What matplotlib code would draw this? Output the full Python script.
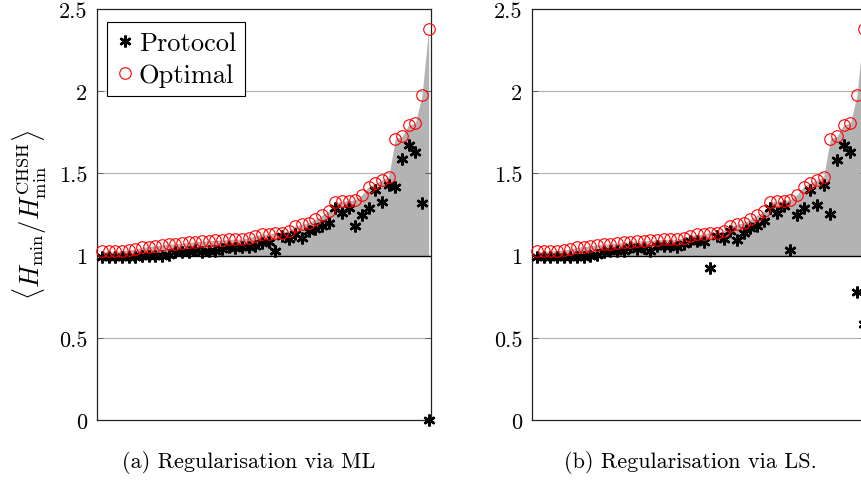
import numpy as np
import matplotlib
matplotlib.use("Agg")
import matplotlib.pyplot as plt
from matplotlib.ticker import FixedLocator, FixedFormatter

plt.rcParams['font.family'] = 'serif'
plt.rcParams['font.serif'] = ['cmr10']
plt.rcParams['mathtext.fontset'] = 'cm'
plt.rcParams['axes.formatter.use_mathtext'] = True

# sample index (sorted by optimal value)
idx = np.arange(1, 51)

# optimal ratio, same in both panels
optimal = [1.025, 1.025, 1.027, 1.03, 1.035, 1.04, 1.05, 1.055, 1.06, 1.065,
           1.07, 1.072, 1.075, 1.08, 1.085, 1.088, 1.09, 1.092, 1.095, 1.098,
           1.10, 1.10, 1.11, 1.12, 1.13, 1.13, 1.14, 1.14, 1.15, 1.18,
           1.19, 1.20, 1.22, 1.245, 1.27, 1.325, 1.33, 1.335, 1.34, 1.37,
           1.42, 1.44, 1.46, 1.48, 1.71, 1.725, 1.795, 1.805, 1.975, 2.38]

# protocol ratio, regularisation via ML
protocol_ml = [0.99, 0.99, 0.99, 0.99, 0.99, 0.99, 0.995, 0.995, 1.0, 1.0,
               1.005, 1.02, 1.02, 1.02, 1.035, 1.02, 1.03, 1.027, 1.04, 1.05,
               1.045, 1.05, 1.055, 1.06, 1.075, 1.08, 1.03, 1.12, 1.10, 1.13,
               1.11, 1.15, 1.16, 1.18, 1.20, 1.29, 1.26, 1.29, 1.18, 1.245,
               1.287, 1.40, 1.325, 1.43, 1.42, 1.585, 1.67, 1.63, 1.317, 0.0]

# protocol ratio, regularisation via LS
protocol_ls = [0.99, 0.99, 0.99, 0.99, 0.99, 0.99, 0.99, 0.99, 0.995, 1.006,
               1.02, 1.03, 1.03, 1.03, 1.05, 1.04, 1.045, 1.03, 1.06, 1.06,
               1.06, 1.05, 1.07, 1.09, 1.09, 1.085, 0.927, 1.12, 1.10, 1.15,
               1.095, 1.14, 1.17, 1.18, 1.21, 1.29, 1.26, 1.30, 1.037, 1.245,
               1.287, 1.40, 1.31, 1.43, 1.256, 1.58, 1.675, 1.63, 0.78, 0.585]

yticks = [0, 0.5, 1, 1.5, 2, 2.5]
ytick_labels = ['0', '0.5', '1', '1.5', '2', '2.5']
captions = ['(a) Regularisation via ML', '(b) Regularisation via LS.']

fig = plt.figure(figsize=(8.62, 4.85), dpi=100)
ax1 = fig.add_axes([97/862, 64/485, 334/862, 411/485])
ax2 = fig.add_axes([532/862, 64/485, 334/862, 411/485])

for ax, prot in [(ax1, protocol_ml), (ax2, protocol_ls)]:
  ax.fill_between(idx, 1, optimal, color='#b3b3b3', lw=0, zorder=1)
  for g in [0.5, 1.5, 2.0]:
    ax.axhline(g, color='#b0b0b0', lw=0.8, zorder=0.5)
  ax.axhline(1, color='black', lw=1.0, zorder=2)
  ax.plot(idx, prot, ls='none', marker=(6, 2, 0), ms=8.5, mew=1.8,
          color='black', label='Protocol', zorder=3, clip_on=False)
  ax.plot(idx, optimal, ls='none', marker='o', ms=8.3, mfc='none',
          mec='red', mew=0.8, label='Optimal', zorder=4, clip_on=False)
  ax.set_xlim(0.25, 50.35)
  ax.set_ylim(0, 2.5)
  ax.set_xticks([])
  ax.yaxis.set_major_locator(FixedLocator(yticks))
  ax.yaxis.set_major_formatter(FixedFormatter(ytick_labels))
  ax.tick_params(axis='y', direction='in', length=4, width=0.6,
                 color='#555555', right=True, labelsize=16, pad=7)
  for sp in ax.spines.values():
    sp.set_linewidth(0.9)
    sp.set_color('#222222')

ax1.set_ylabel(r'$\langle H_{\min}/H_{\min}^{\mathrm{CHSH}}\rangle$',
               fontsize=19, labelpad=7)
leg = ax1.legend(loc='upper left', bbox_to_anchor=(0.03, 0.968),
                 fontsize=19, handlelength=0.7, handletextpad=0.15,
                 borderpad=0.35, labelspacing=0.3, fancybox=False,
                 framealpha=1, edgecolor='black', borderaxespad=0)
leg.get_frame().set_linewidth(0.8)

fig.text(249/862, 22/485, captions[0], ha='center', va='center', fontsize=16)
fig.text(690/862, 22/485, captions[1], ha='center', va='center', fontsize=16)

fig.savefig('out.png', dpi=100)
